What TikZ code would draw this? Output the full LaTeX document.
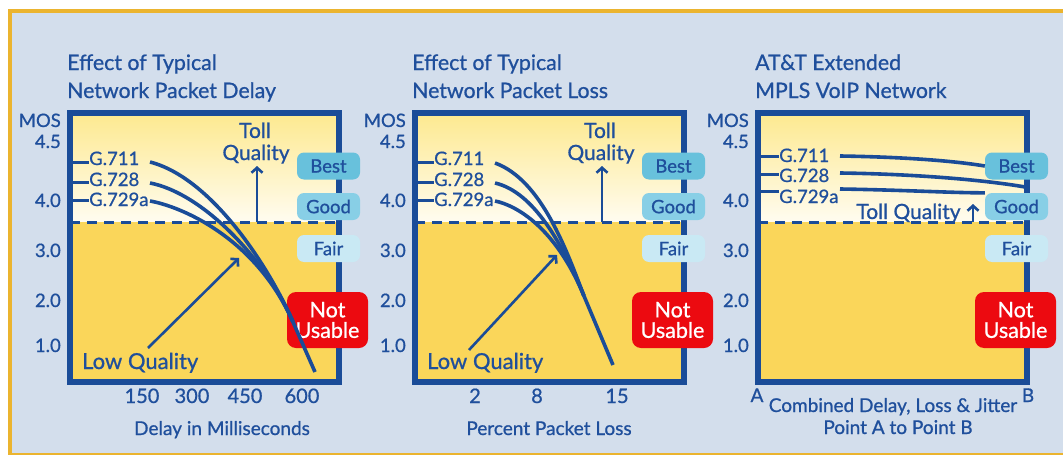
\documentclass[tikz,border=0pt]{standalone}
\usepackage{fontspec}
\setmainfont{Lato}[FakeBold=0.8]
\usetikzlibrary{arrows.meta}
\definecolor{bg}{HTML}{D3DEEC}
\definecolor{gold}{HTML}{EBB42F}
\definecolor{navy}{HTML}{1A4C98}
\definecolor{txt}{HTML}{1F4F9C}
\definecolor{lowfill}{HTML}{FAD65A}
\definecolor{topfill}{HTML}{FDE98F}
\definecolor{whitefill}{HTML}{FFFCF0}
\definecolor{bestc}{HTML}{68C1DC}
\definecolor{goodc}{HTML}{88CFE6}
\definecolor{fairc}{HTML}{C9E9F4}
\definecolor{redc}{HTML}{EC0A10}
\newcommand{\fsz}[1]{\fontsize{#1}{#1}\selectfont}
\tikzset{
  lbl/.style={text=txt, inner sep=0pt, font=\fsz{20}},
  ylbl/.style={text=txt, inner sep=0pt, font=\fsz{18.5}, anchor=base east},
  ttl/.style={text=txt, inner sep=0pt, font=\fsz{21.3}, anchor=base west},
  glbl/.style={text=txt, inner sep=0pt, font=\fsz{18.5}, anchor=base west},
  badge/.style={rounded corners=7pt, minimum width=63pt, minimum height=27pt, inner sep=0pt, text=txt, font=\fsz{18.5}},
  nubox/.style={rounded corners=9pt, fill=redc, minimum width=81pt, minimum height=56pt, inner sep=0pt, text=white, font=\fsz{21.5}, align=center},
  curve/.style={navy, line width=3.6pt},
  tick/.style={navy, line width=3pt},
  arr/.style={navy, line width=2.6pt, -{Straight Barb[length=5pt,width=11pt,line width=2.6pt]}},
}
\newcommand{\panelframe}[1]{%
  \shade[top color=topfill,bottom color=whitefill] (3,113) rectangle (272,222);
  \fill[lowfill] (3,222) rectangle (272,382);
  \draw[navy, line width=3pt, dash pattern=on 10pt off 7pt] (3,222) -- (272,222);
  \draw[navy, line width=6pt] (3,113) rectangle (272,382);
  \node[ylbl] (#1mos) at (-6,127) {MOS};
  \node[ylbl] (#1y45) at (-6,148) {4.5};
  \node[ylbl] (#1y40) at (-6,207) {4.0};
  \node[ylbl] (#1y30) at (-6,257) {3.0};
  \node[ylbl] (#1y20) at (-6,307) {2.0};
  \node[ylbl] (#1y10) at (-6,352) {1.0};
  \node[badge, fill=bestc] (#1best) at (261.5,166) {Best};
  \node[badge, fill=goodc] (#1good) at (261.5,206.5) {Good};
  \node[badge, fill=fairc] (#1fair) at (261.5,248.5) {Fair};
  \node[nubox] (#1nu) at (260.5,320) {Not\\[-1pt]Usable};
}
\newcommand{\codecs}[1]{%
  \coordinate (#1k1) at (3,162); \coordinate (#1k2) at (3,182); \coordinate (#1k3) at (3,200);
  \node[glbl] (#1g1) at (22,165) {G.711};
  \node[glbl] (#1g2) at (22,186) {G.728};
  \node[glbl] (#1g3) at (22,206) {G.729a};
  \draw[tick] (#1k1) -- (#1g1.west |- #1k1);
  \draw[tick] (#1k2) -- (#1g2.west |- #1k2);
  \draw[tick] (#1k3) -- (#1g3.west |- #1k3);
  \node[lbl, anchor=base, font=\fsz{21}] (#1toll) at (188,138) {Toll};
  \node[lbl, anchor=base, font=\fsz{21}] (#1qual) at (189,160) {Quality};
  \coordinate (#1tb) at (190,222);
  \draw[arr] (#1tb) -- (190,166);
  \node[lbl, anchor=base west, font=\fsz{22}] (#1low) at (15,369) {Low Quality};
}
\begin{document}
\begin{tikzpicture}[x=1pt,y=-1pt]
\useasboundingbox (0,0) rectangle (1063,455);
\fill[white] (0,0) rectangle (1063,455);
\fill[gold] (8,9) rectangle (1063,455);
\fill[bg] (12,13) rectangle (1063,452.5);

% ---------- left panel ----------
\begin{scope}[xshift=67pt]
  \panelframe{L}
  \codecs{L}
  \node[ttl] (Lt1) at (0,70) {Effect of Typical};
  \node[ttl] (Lt2) at (0,98) {Network Packet Delay};
  \coordinate (Le) at (248,372);
  \coordinate (Lj) at (226,322);
  \coordinate (Ls1) at (83,162); \coordinate (Ls2) at (83,183); \coordinate (Ls3) at (83,201);
  \draw[curve] (Ls1) .. controls (145,178) and (202,267) .. (Lj);
  \draw[curve] (Ls2) .. controls (135,193) and (198,258) .. (Lj);
  \draw[curve] (Ls3) .. controls (112,206) and (188,236) .. (Lj);
  \draw[curve] (Lj) -- (Le);
  \coordinate (Lla) at (81,348); \coordinate (Llb) at (172,258);
  \draw[arr] (Lla) -- (Llb);
  \node[lbl, anchor=base] (Lx1) at (75,403) {150};
  \node[lbl, anchor=base] (Lx2) at (125,403) {300};
  \node[lbl, anchor=base] (Lx3) at (178,403) {450};
  \node[lbl, anchor=base] (Lx4) at (235,403) {600};
  \node[lbl, anchor=base, font=\fsz{19}] (Lax) at (155,435) {Delay in Milliseconds};
\end{scope}

% ---------- middle panel ----------
\begin{scope}[xshift=412pt]
  \panelframe{M}
  \codecs{M}
  \node[ttl] (Mt1) at (0,70) {Effect of Typical};
  \node[ttl] (Mt2) at (0,98) {Network Packet Loss};
  \coordinate (Me) at (201,365);
  \coordinate (Mj) at (172,296);
  \coordinate (Ms1) at (83,163); \coordinate (Ms2) at (83,183); \coordinate (Ms3) at (83,201);
  \draw[curve] (Ms1) .. controls (130,180) and (155,252) .. (Mj);
  \draw[curve] (Ms2) .. controls (122,192) and (151,245) .. (Mj);
  \draw[curve] (Ms3) .. controls (103,205) and (143,226) .. (Mj);
  \draw[curve] (Mj) -- (Me);
  \coordinate (Mla) at (57,350); \coordinate (Mlb) at (145,255);
  \draw[arr] (Mla) -- (Mlb);
  \node[lbl, anchor=base] (Mx1) at (63,403) {2};
  \node[lbl, anchor=base] (Mx2) at (125,403) {8};
  \node[lbl, anchor=base] (Mx3) at (205,403) {15};
  \node[lbl, anchor=base, font=\fsz{19}] (Max) at (137,435) {Percent Packet Loss};
\end{scope}

% ---------- right panel ----------
\begin{scope}[xshift=755pt]
  \panelframe{R}
  \node[ttl] (Rt1) at (0,70) {AT\&T Extended};
  \node[ttl] (Rt2) at (0,98) {MPLS VoIP Network};
  \coordinate (Rk1) at (3,156); \coordinate (Rk2) at (3,174); \coordinate (Rk3) at (3,191);
  \node[glbl] (Rg1) at (24,162) {G.711};
  \node[glbl] (Rg2) at (24,182) {G.728};
  \node[glbl] (Rg3) at (24,203) {G.729a};
  \draw[tick] (Rk1) -- (Rg1.west |- Rk1);
  \draw[tick] (Rk2) -- (Rg2.west |- Rk2);
  \draw[tick] (Rk3) -- (Rg3.west |- Rk3);
  \coordinate (Rs1) at (85,156); \coordinate (Rs2) at (85,173); \coordinate (Rs3) at (85,189);
  \draw[curve] (Rs1) .. controls (150,157) and (200,161) .. (Rbest.west);
  \draw[curve] (Rs2) .. controls (160,174) and (230,180) .. (270,187);
  \draw[curve] (Rs3) .. controls (150,190) and (200,193) .. (Rgood.north west);
  \node[lbl, anchor=base, font=\fsz{21}] (Rtq) at (153.5,219) {Toll Quality};
  \coordinate (Rtb) at (218,222);
  \draw[arr] (Rtb) -- (218,204);
  \node[lbl, anchor=base, font=\fsz{19}] (RA) at (2,402) {A};
  \node[lbl, anchor=base, font=\fsz{19}] (RB) at (273,402) {B};
  \node[lbl, anchor=base, font=\fsz{19}] (Rax1) at (138,412) {Combined Delay, Loss \& Jitter};
  \node[lbl, anchor=base, font=\fsz{19}] (Rax2) at (143,434) {Point A to Point B};
\end{scope}
\end{tikzpicture}
\end{document}
